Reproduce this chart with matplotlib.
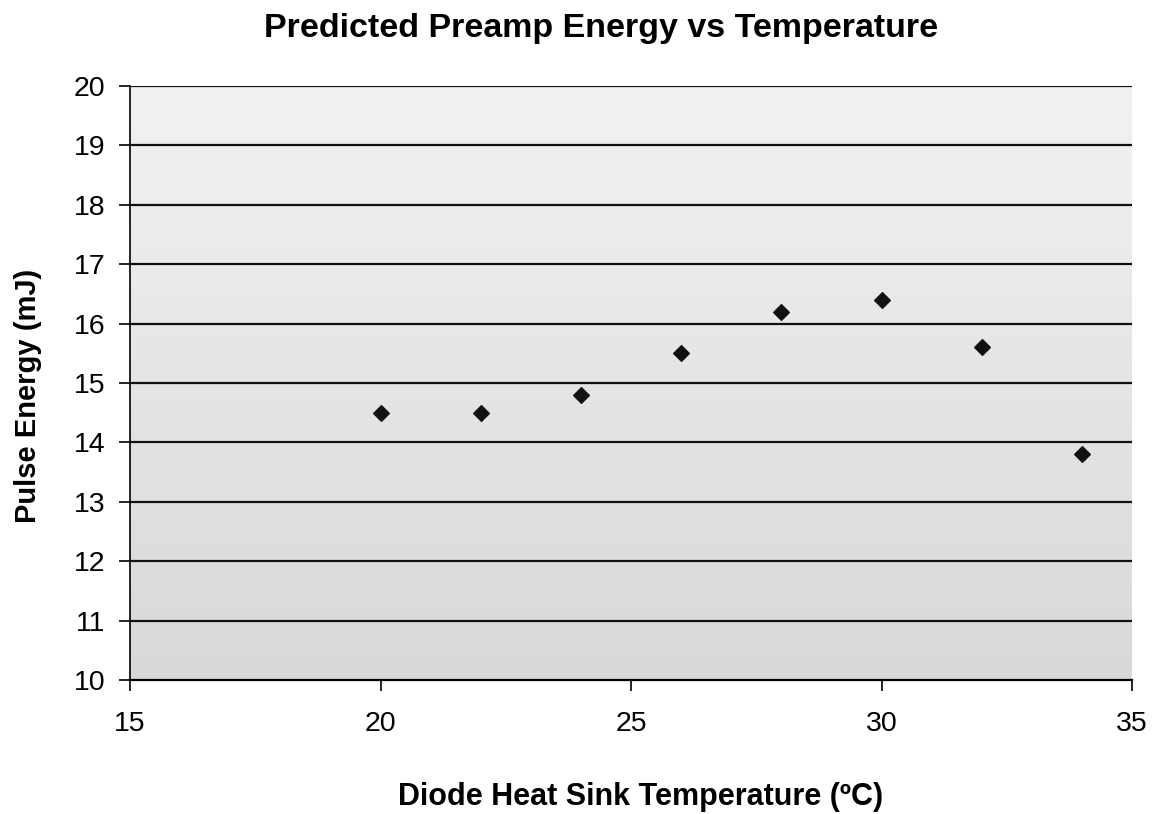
import numpy as np
import matplotlib.pyplot as plt
from matplotlib.colors import LinearSegmentedColormap

plt.rcParams['font.family'] = ['Liberation Sans', 'DejaVu Sans']

# data
temperature = [20, 22, 24, 26, 28, 30, 32, 34]
pulse_energy = [14.5, 14.5, 14.8, 15.5, 16.2, 16.4, 15.6, 13.8]

x_ticks = [15, 20, 25, 30, 35]
y_ticks = list(range(10, 21))

fig = plt.figure(figsize=(11.55, 8.14), dpi=100)
ax = fig.add_axes([130 / 1155, 1 - 680 / 814, 1002 / 1155, 594 / 814])

# gray gradient background, lighter at the top
bg = LinearSegmentedColormap.from_list('bg', ['#f2f2f2', '#d8d8d8'])
grad = np.linspace(0, 1, 256).reshape(-1, 1)
ax.imshow(grad, extent=[15, 35, 10, 20], aspect='auto', cmap=bg,
          origin='upper', zorder=0)

for y in y_ticks[1:]:
    ax.axhline(y, color='#111111', lw=1.6, zorder=1)

ax.scatter(temperature, pulse_energy, marker='D', s=64, color='#111111', zorder=3)

ax.set_xlim(15, 35)
ax.set_ylim(10, 20)
ax.set_xticks(x_ticks)
ax.set_yticks(y_ticks)
ax.tick_params(axis='both', labelsize=20.5, direction='out', length=8, width=1.2, pad=10)
ax.tick_params(axis='x', pad=14)

for side in ['top', 'right']:
    ax.spines[side].set_visible(False)
ax.spines['left'].set_linewidth(1.2)
ax.spines['bottom'].set_linewidth(1.6)

fig.text(601 / 1155, 1 - 28 / 814, 'Predicted Preamp Energy vs Temperature',
         fontsize=24.5, fontweight='bold', ha='center', va='center')
ax.set_xlabel('Diode Heat Sink Temperature (ºC)', fontsize=22, fontweight='bold')
ax.xaxis.set_label_coords((641 - 130) / 1002, -0.172)
ax.set_ylabel('Pulse Energy (mJ)', fontsize=21, fontweight='bold')
ax.yaxis.set_label_coords((42 - 130) / 1002, (680 - 396) / 594)

fig.savefig('out.png', dpi=100)
